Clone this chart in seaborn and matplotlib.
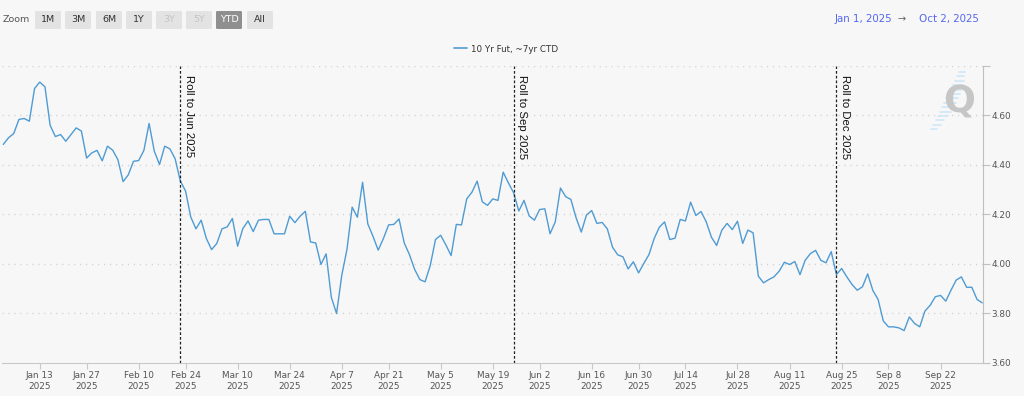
import matplotlib
matplotlib.use("Agg")
import matplotlib.pyplot as plt
from matplotlib.patches import FancyBboxPatch
from matplotlib.lines import Line2D
import numpy as np
import pandas as pd
import seaborn as sns

sns.set_theme(style="white")
plt.rcParams["font.family"] = ["DejaVu Sans"]

# --- data ---
start_date = "2025-01-02"
end_date = "2025-10-02"
holidays = ["2025-01-20", "2025-02-17", "2025-04-18", "2025-05-26",
            "2025-06-19", "2025-07-04", "2025-09-01"]

ctd_yield = [
    4.483, 4.510, 4.527, 4.584, 4.588, 4.577, 4.709, 4.735, 4.716, 4.560,
    4.515, 4.523, 4.496, 4.523, 4.550, 4.537, 4.428, 4.449, 4.459, 4.417,
    4.476, 4.460, 4.422, 4.333, 4.360, 4.415, 4.418, 4.459, 4.568, 4.456,
    4.402, 4.476, 4.465, 4.425, 4.335, 4.295, 4.190, 4.142, 4.177, 4.103,
    4.058, 4.083, 4.142, 4.150, 4.184, 4.072, 4.143, 4.174, 4.131, 4.177,
    4.180, 4.180, 4.122, 4.122, 4.122, 4.193, 4.167, 4.193, 4.213, 4.089,
    4.085, 3.998, 4.041, 3.865, 3.800, 3.954, 4.059, 4.230, 4.189, 4.330,
    4.162, 4.112, 4.056, 4.103, 4.158, 4.160, 4.182, 4.085, 4.038, 3.978,
    3.937, 3.928, 3.994, 4.099, 4.116, 4.077, 4.034, 4.160, 4.158, 4.263,
    4.290, 4.335, 4.251, 4.237, 4.263, 4.257, 4.371, 4.328, 4.288, 4.214,
    4.257, 4.194, 4.177, 4.220, 4.223, 4.122, 4.170, 4.307, 4.272, 4.261,
    4.187, 4.129, 4.198, 4.216, 4.164, 4.168, 4.142, 4.068, 4.037, 4.029,
    3.980, 4.009, 3.964, 4.002, 4.038, 4.103, 4.149, 4.170, 4.099, 4.104,
    4.180, 4.174, 4.250, 4.196, 4.212, 4.170, 4.108, 4.075, 4.137, 4.164,
    4.139, 4.173, 4.083, 4.137, 4.126, 3.951, 3.924, 3.937, 3.948, 3.971,
    4.007, 3.998, 4.010, 3.957, 4.015, 4.042, 4.055, 4.015, 4.005, 4.050,
    3.957, 3.982, 3.948, 3.917, 3.894, 3.908, 3.960, 3.893, 3.857, 3.770,
    3.746, 3.746, 3.742, 3.731, 3.786, 3.760, 3.746, 3.810, 3.833, 3.868,
    3.873, 3.850, 3.894, 3.935, 3.948, 3.906, 3.906, 3.857, 3.843,
]

tick_dates = ["2025-01-13", "2025-01-27", "2025-02-10", "2025-02-24", "2025-03-10",
              "2025-03-24", "2025-04-07", "2025-04-21", "2025-05-05", "2025-05-19",
              "2025-06-02", "2025-06-16", "2025-06-30", "2025-07-14", "2025-07-28",
              "2025-08-11", "2025-08-25", "2025-09-08", "2025-09-22"]
roll_dates = ["2025-02-21", "2025-05-23", "2025-08-22"]
roll_labels = ["Roll to Jun 2025", "Roll to Sep 2025", "Roll to Dec 2025"]
y_ticks = [3.6, 3.8, 4.0, 4.2, 4.4, 4.6, 4.8]
zoom_buttons = ["1M", "3M", "6M", "1Y", "3Y", "5Y", "YTD", "All"]

# ordinal axis: one slot per trading day
dates = pd.bdate_range(start_date, end_date, freq="C", holidays=holidays)
assert len(dates) == len(ctd_yield)
df = pd.DataFrame({"pos": np.arange(len(dates)), "val": ctd_yield})

W, H = 1024, 396
BG = "#f7f7f7"
fig = plt.figure(figsize=(W / 100, H / 100), dpi=100, facecolor=BG)
ax = fig.add_axes([2 / W, 1 - 363 / H, 981 / W, 297 / H])
ax.set_facecolor(BG)

sns.lineplot(data=df, x="pos", y="val", ax=ax, color="#4f9bd3", linewidth=1.0,
             label="10 Yr Fut, ~7yr CTD", legend=False)

ax.set_xlim(-0.25, len(dates) - 0.85)
ax.set_ylim(3.6, 4.8)

# grid
for v in y_ticks[1:]:
    ax.axhline(v, color="#cfcfcf", lw=1.0, ls=(0, (0.8, 3.5)), zorder=0)

# axes styling
for s in ["left", "top"]:
    ax.spines[s].set_visible(False)
ax.spines["bottom"].set_color("#c8c8c8")
ax.spines["bottom"].set_linewidth(0.8)
ax.spines["right"].set_color("#c0c0c0")
ax.spines["right"].set_linewidth(0.8)

ax.yaxis.tick_right()
ax.set_yticks(y_ticks)
ax.set_yticklabels([f"{v:.2f}" for v in y_ticks[:-1]] + [""])
ax.tick_params(axis="y", colors="#c0c0c0", labelcolor="#555555", labelsize=6.4,
               length=5, width=0.8, pad=1, right=True)

tick_pos = [dates.get_loc(pd.Timestamp(d)) for d in tick_dates]
ax.set_xticks(tick_pos)
ax.set_xticklabels([pd.Timestamp(d).strftime("%b %-d") + "\n2025" for d in tick_dates])
ax.tick_params(axis="x", colors="#c8c8c8", labelcolor="#555555", labelsize=6.4,
               length=4, width=0.8, pad=2, bottom=True)
ax.set_xlabel("")
ax.set_ylabel("")

# roll lines
for d, lab in zip(roll_dates, roll_labels):
    p = dates.get_loc(pd.Timestamp(d))
    ax.axvline(p, color="#222222", lw=0.9, ls=(0, (2.2, 1.6)), zorder=3)
    ax.annotate(lab, xy=(p, 4.8), xytext=(2.5, -6.5), textcoords="offset points",
                rotation=270, ha="left", va="top", fontsize=8.2,
                family="Liberation Sans", color="#111111")

# legend
fig.legend(handles=[Line2D([], [], color="#4f9bd3", lw=1.2)],
           labels=["10 Yr Fut, ~7yr CTD"], loc="center",
           bbox_to_anchor=(506 / W, 1 - 49 / H), frameon=False, fontsize=6.3,
           handlelength=1.5, handletextpad=0.4, labelcolor="#333333")

# range selector
fig.text(3 / W, 1 - 20 / H, "Zoom", fontsize=6.8, color="#555555", va="center")
btn_x = [35, 65, 96, 126, 156, 186, 216, 247]
for bx, lab in zip(btn_x, zoom_buttons):
    selected = lab == "YTD"
    disabled = lab in ("3Y", "5Y")
    face = "#8f8f8f" if selected else "#e3e3e3"
    tcol = "white" if selected else ("#c4c4c4" if disabled else "#333333")
    fig.patches.append(FancyBboxPatch((bx / W, 1 - 29 / H), 26 / W, 18 / H,
                                      boxstyle="round,pad=0,rounding_size=0.002",
                                      transform=fig.transFigure, facecolor=face,
                                      edgecolor="none"))
    fig.text((bx + 13) / W, 1 - 20 / H, lab, fontsize=6.8, color=tcol,
             ha="center", va="center")

fig.text(835 / W, 1 - 19 / H, "Jan 1, 2025", fontsize=7.4, color="#5566ee", va="center")
fig.text(898 / W, 1 - 19 / H, "\u2192", fontsize=7.0, color="#666666", va="center")
fig.text(919 / W, 1 - 19 / H, "Oct 2, 2025", fontsize=7.4, color="#5566ee", va="center")

# watermark
for k in range(14):
    yy = 72 + k * 4.4
    xc = 962 - (yy - 70) * (30 / 62)
    ln = 6 + 6 * np.sin(np.pi * k / 13)
    fig.add_artist(Line2D([(xc - 2) / W, (xc - 2 + ln) / W], [1 - yy / H, 1 - yy / H],
                          transform=fig.transFigure, color="#cde8f7", lw=1.2))
fig.text(959 / W, 1 - 103 / H, "Q", fontsize=27, fontweight="bold", color="#c6c6c6",
         ha="center", va="center")

fig.savefig("out.png", dpi=100, facecolor=BG)
